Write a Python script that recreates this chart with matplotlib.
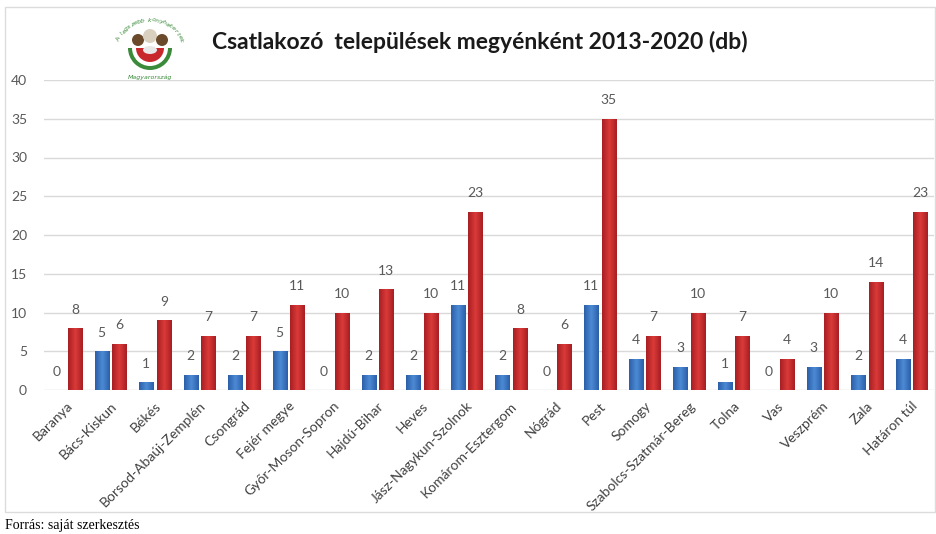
import numpy as np
import matplotlib
matplotlib.use('Agg')
import matplotlib.pyplot as plt
from matplotlib.patches import Rectangle, Wedge, Circle, Ellipse
from matplotlib.colors import LinearSegmentedColormap

counties = ['Baranya', 'Bács-Kiskun', 'Békés', 'Borsod-Abaúj-Zemplén', 'Csongrád',
            'Fejér megye', 'Győr-Moson-Sopron', 'Hajdú-Bihar', 'Heves', 'Jász-Nagykun-Szolnok',
            'Komárom-Esztergom', 'Nógrád', 'Pest', 'Somogy', 'Szabolcs-Szatmár-Bereg',
            'Tolna', 'Vas', 'Veszprém', 'Zala', 'Határon túl']
blue_vals = [0, 5, 1, 2, 2, 5, 0, 2, 2, 11, 2, 0, 11, 4, 3, 1, 0, 3, 2, 4]
red_vals = [8, 6, 9, 7, 7, 11, 10, 13, 10, 23, 8, 6, 35, 7, 10, 7, 4, 10, 14, 23]
yticks = [0, 5, 10, 15, 20, 25, 30, 35, 40]

W, H = 937, 534
fig = plt.figure(figsize=(W / 100, H / 100), dpi=100)

# outer frame
fig.patches.append(Rectangle((5 / W, 1 - 512 / H), 930 / W, 505 / H, transform=fig.transFigure,
                             fill=False, edgecolor='#dcdcdc', linewidth=1))

ax = fig.add_axes([43.75 / W, 1 - 390 / H, 890 / W, 310 / H])
x = np.arange(len(counties))
bw = 0.315
off = 0.2
blue_bars = ax.bar(x - off, blue_vals, bw, color='#3570bd', zorder=3)
red_bars = ax.bar(x + off, red_vals, bw, color='#c42a2d', zorder=3)

# horizontal gradient on the bars (lighter in the middle)
blue_cm = LinearSegmentedColormap.from_list('b', ['#2b5fa8', '#4d8ad5', '#2b5fa8'])
red_cm = LinearSegmentedColormap.from_list('r', ['#a61f23', '#dc3a3a', '#a61f23'])
grad = np.linspace(0, 1, 64).reshape(1, -1)
for bars, cm in [(blue_bars, blue_cm), (red_bars, red_cm)]:
    for b in bars:
        if b.get_height() <= 0:
            continue
        x0, y0 = b.get_x(), b.get_y()
        im = ax.imshow(grad, cmap=cm, aspect='auto', zorder=4,
                       extent=[x0, x0 + b.get_width(), y0, y0 + b.get_height()])
        im.set_clip_path(b)

for i in range(len(counties)):
    ax.annotate(str(blue_vals[i]), (x[i] - off, blue_vals[i]), xytext=(0, 9), textcoords='offset points',
                ha='center', va='bottom', fontsize=10, color='#595959', family='Lato')
    ax.annotate(str(red_vals[i]), (x[i] + off, red_vals[i]), xytext=(0, 9), textcoords='offset points',
                ha='center', va='bottom', fontsize=10, color='#595959', family='Lato')

ax.set_xlim(-0.5, len(counties) - 0.5)
ax.set_ylim(0, 40)
ax.set_yticks(yticks)
ax.set_yticklabels([str(v) for v in yticks], fontsize=10, color='#595959', family='Lato')
ax.yaxis.grid(True, color='#d9d9d9', linewidth=1, zorder=0)
ax.set_xticks(x)
ax.set_xticklabels(counties, rotation=45, ha='right', rotation_mode='anchor',
                   fontsize=10, color='#404040', family='Lato')
ax.tick_params(axis='both', length=0)
ax.tick_params(axis='y', pad=12)
ax.tick_params(axis='x', pad=7)
for s in ax.spines.values():
    s.set_visible(False)

fig.text(480 / W, 1 - 42 / H, 'Csatlakozó  települések megyénként 2013-2020 (db)',
         ha='center', va='center', fontsize=16.5, fontweight='bold', color='#1a1a1a', family='Lato')

# simple logo sketch
lax = fig.add_axes([105 / W, 1 - 80 / H, 90 / W, 70 / H])
lax.set_xlim(0, 90)
lax.set_ylim(0, 70)
lax.axis('off')
lax.add_patch(Wedge((45, 32), 22, 180, 360, facecolor='#3a8a3a'))
lax.add_patch(Wedge((45, 32), 18, 180, 360, facecolor='white'))
lax.add_patch(Wedge((45, 32), 14, 180, 360, facecolor='#c8282c'))
for cx, cy, r, c in [(33, 40, 6, '#6b4a2b'), (45, 44, 7, '#d9d0c0'), (57, 40, 6, '#6b4a2b')]:
    lax.add_patch(Circle((cx, cy), r, facecolor=c))
lax.add_patch(Ellipse((45, 30), 14, 8, facecolor='#e8e8e8'))
arc_text = 'A legszebb konyhakertek'
n = len(arc_text)
for k, ch in enumerate(arc_text):
    a = np.deg2rad(160 - k * 140 / (n - 1))
    lax.text(45 + 33 * np.cos(a), 30 + 30 * np.sin(a), ch, fontsize=4.5, color='#3a8a3a',
             rotation=np.rad2deg(a) - 90, ha='center', va='center', style='italic')
lax.text(45, 3, 'Magyarország', fontsize=4.5, color='#3a8a3a', ha='center', va='center', style='italic')

fig.text(5 / W, 1 - 525 / H, 'Forrás: saját szerkesztés', ha='left', va='center',
         fontsize=10, family='Liberation Serif', color='black')

fig.savefig('out.png', dpi=100)
